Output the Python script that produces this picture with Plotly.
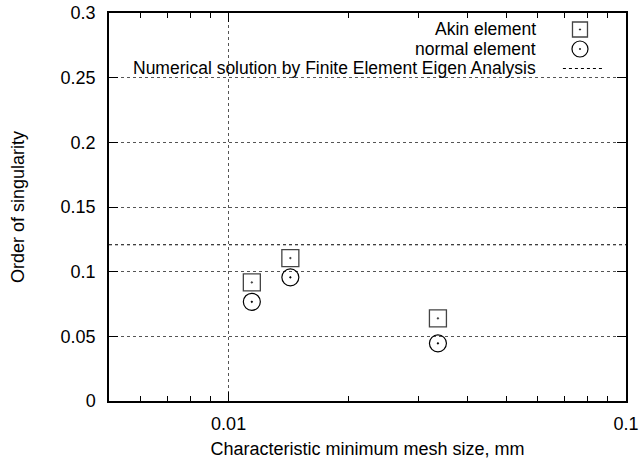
import plotly.graph_objects as go

# ---- data ----
mesh_size = [0.01144, 0.01430, 0.03363]
akin_order = [0.0917, 0.1105, 0.0639]
normal_order = [0.0767, 0.0956, 0.0446]
numerical_solution = 0.1208

x_tickvals = [0.01, 0.1]
x_ticktext = ["0.01", "0.1"]
x_minor = [0.006, 0.007, 0.008, 0.009, 0.02, 0.03, 0.04, 0.05, 0.06, 0.07, 0.08, 0.09]
y_tickvals = [0, 0.05, 0.1, 0.15, 0.2, 0.25, 0.3]
y_ticktext = ["0", "0.05", "0.1", "0.15", "0.2", "0.25", "0.3"]
legend_labels = ["Akin element", "normal element",
                 "Numerical solution by Finite Element Eigen Analysis"]

FONT = "Liberation Sans, Arial, Helvetica, sans-serif"
FS = 18
LFS = 17.5

fig = go.Figure()
fig.add_trace(go.Scatter(
    x=mesh_size, y=akin_order, mode="markers", name=legend_labels[0],
    marker=dict(symbol="square-open-dot", size=17, color="#444",
                line=dict(color="#444", width=1.3)),
    showlegend=False))
fig.add_trace(go.Scatter(
    x=mesh_size, y=normal_order, mode="markers", name=legend_labels[1],
    marker=dict(symbol="circle-open-dot", size=17, color="black",
                line=dict(color="black", width=1.2)),
    showlegend=False))
fig.add_hline(y=numerical_solution, line=dict(color="black", width=1.2, dash="3px,3px"))

# manual gnuplot-style legend (text, then symbol to its right)
lx_text = 0.828
lx_sym = 0.911
rows = [0.9575, 0.9072, 0.857]
for lab, ry in zip(legend_labels, rows):
    fig.add_annotation(x=lx_text, y=ry, xref="paper", yref="paper", text=lab,
                       showarrow=False, xanchor="right", yanchor="middle",
                       borderpad=0, valign="middle",
                       font=dict(family=FONT, size=LFS, color="black"))
fig.add_shape(type="rect", xref="paper", yref="paper", xsizemode="pixel", ysizemode="pixel",
              xanchor=lx_sym, yanchor=rows[0], x0=-7.5, x1=7.5, y0=-7.5, y1=7.5,
              line=dict(color="#444", width=1.3))
fig.add_shape(type="circle", xref="paper", yref="paper", xsizemode="pixel", ysizemode="pixel",
              xanchor=lx_sym, yanchor=rows[1], x0=-8, x1=8, y0=-8, y1=8,
              line=dict(color="black", width=1.2))
for ry in rows[:2]:
    fig.add_shape(type="circle", xref="paper", yref="paper", xsizemode="pixel", ysizemode="pixel",
                  xanchor=lx_sym, yanchor=ry, x0=-0.7, x1=0.7, y0=-0.7, y1=0.7,
                  line=dict(color="black", width=0.5), fillcolor="black")
fig.add_shape(type="line", xref="paper", yref="paper", x0=0.878, x1=0.954, y0=rows[2], y1=rows[2],
              line=dict(color="black", width=1.2, dash="3px,3px"))

fig.update_layout(
    width=640, height=459,
    margin=dict(l=109, r=14, t=13, b=58),
    paper_bgcolor="white", plot_bgcolor="white",
    font=dict(family=FONT, size=FS, color="black"),
    showlegend=False,
    xaxis=dict(
        type="log", range=[-2.30103, -1], automargin=False,
        tickmode="array", tickvals=x_tickvals, ticktext=x_ticktext,
        ticks="inside", ticklen=9, tickwidth=1, tickcolor="black",
        showline=True, linecolor="black", linewidth=1.5, mirror="ticks",
        showgrid=True, gridcolor="#555", griddash="dot", gridwidth=1,
        zeroline=False, ticklabelstandoff=6, ticklabeloverflow="allow",
        minor=dict(tickmode="array", tickvals=x_minor, ticks="inside", ticklen=5,
                   tickcolor="black", tickwidth=1, showgrid=False),
        title=dict(text="Characteristic minimum mesh size, mm", standoff=9,
                   font=dict(family=FONT, size=FS)),
        tickfont=dict(family=FONT, size=FS),
    ),
    yaxis=dict(
        range=[0, 0.3], automargin=False,
        tickmode="array", tickvals=y_tickvals, ticktext=y_ticktext,
        ticks="inside", ticklen=9, tickwidth=1, tickcolor="black",
        showline=True, linecolor="black", linewidth=1.5, mirror="ticks",
        showgrid=True, gridcolor="#555", griddash="dot", gridwidth=1,
        zeroline=False, ticklabelstandoff=8, ticklabeloverflow="allow",
        title=dict(text="Order of singularity", standoff=31,
                   font=dict(family=FONT, size=FS)),
        tickfont=dict(family=FONT, size=FS),
    ),
)

# remove the default 8px page margin so the figure fills the 640x459 window exactly
fig.write_html("out.html", config={"displayModeBar": False},
               post_script="document.body.style.margin='0px';")
